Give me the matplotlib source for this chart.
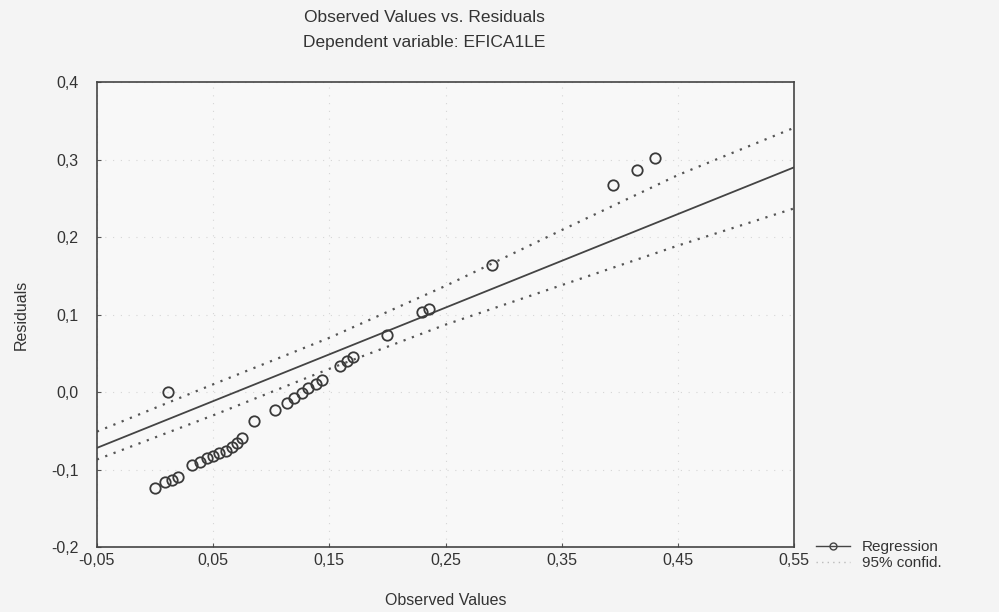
import matplotlib
matplotlib.use("Agg")
import matplotlib.pyplot as plt
from matplotlib.lines import Line2D
from matplotlib.ticker import FuncFormatter

obs_x = [0.000, 0.0085, 0.0146, 0.0197, 0.0318, 0.0387, 0.0447, 0.0499,
         0.055, 0.061, 0.066, 0.0705, 0.0748, 0.085, 0.103, 0.1136,
         0.1196, 0.1265, 0.1316, 0.1385, 0.1437, 0.159, 0.165, 0.1704,
         0.011, 0.200, 0.2298, 0.2358, 0.290, 0.394, 0.415, 0.430]
resid = [-0.124, -0.116, -0.114, -0.110, -0.094, -0.090, -0.085, -0.083,
         -0.079, -0.076, -0.071, -0.066, -0.059, -0.037, -0.023, -0.014,
         -0.008, -0.001, 0.005, 0.010, 0.0155, 0.034, 0.040, 0.045,
         0.000, 0.0735, 0.103, 0.107, 0.164, 0.267, 0.286, 0.302]

# regression line and 95% band
reg_x = [-0.05, 0.55]
reg_y = [-0.072, 0.290]
band_x = [-0.05, 0.05, 0.15, 0.25, 0.35, 0.45, 0.55]
band_hi = [-0.051, 0.010, 0.070, 0.137, 0.209, 0.280, 0.341]
band_lo = [-0.087, -0.030, 0.030, 0.087, 0.138, 0.189, 0.237]

x_ticks = [-0.05, 0.05, 0.15, 0.25, 0.35, 0.45, 0.55]
y_ticks = [-0.2, -0.1, 0.0, 0.1, 0.2, 0.3, 0.4]

plt.rcParams['font.family'] = ['Liberation Sans', 'DejaVu Sans']

fig = plt.figure(figsize=(9.99, 6.12), dpi=100, facecolor="#f4f4f4")
ax = fig.add_axes([0.097, 0.106, 0.698, 0.760], facecolor="#f8f8f8")

ink = "#3a3a3a"
ax.plot(band_x, band_hi, linestyle=(0, (1, 3)), color="#555555", lw=1.6)
ax.plot(band_x, band_lo, linestyle=(0, (1, 3)), color="#555555", lw=1.6)
ax.plot(reg_x, reg_y, color="#444444", lw=1.3)
ax.plot(obs_x, resid, linestyle="none", marker="o", markersize=7.5,
        markerfacecolor="none", markeredgecolor=ink, markeredgewidth=1.3)

ax.set_xlim(-0.05, 0.55)
ax.set_ylim(-0.2, 0.4)
ax.set_xticks(x_ticks)
ax.set_yticks(y_ticks)
ax.xaxis.set_major_formatter(FuncFormatter(lambda v, p: f"{v:.2f}".replace(".", ",")))
ax.yaxis.set_major_formatter(FuncFormatter(lambda v, p: f"{v:.1f}".replace(".", ",")))
ax.tick_params(direction="in", length=3, color="#555555", labelsize=11.5,
               labelcolor="#333333")
ax.tick_params(axis="x", pad=4)
ax.tick_params(axis="y", pad=13)
ax.grid(True, linestyle=(0, (1, 6)), color="#d6d6d6", lw=0.8)
for s in ax.spines.values():
    s.set_color("#444444")
    s.set_linewidth(1.2)

ax.set_xlabel("Observed Values", fontsize=11.5, color="#333333", labelpad=18)
ax.set_ylabel("Residuals", fontsize=11.5, color="#333333", labelpad=16)

fig.text(0.425, 0.972, "Observed Values vs. Residuals", ha="center", va="center",
         fontsize=12.5, color="#333333")
fig.text(0.425, 0.931, "Dependent variable: EFICA1LE", ha="center", va="center",
         fontsize=12.5, color="#333333")

handles = [
    Line2D([], [], color="#444444", lw=1.0, marker="o", markersize=5,
           markerfacecolor="none", markeredgecolor="#444444"),
    Line2D([], [], color="#bbbbbb", lw=1.0, linestyle=(0, (1, 3))),
]
fig.legend(handles, ["Regression", "95% confid."], loc="center left",
           bbox_to_anchor=(0.803, 0.093), frameon=False, fontsize=11,
           handlelength=2.2, labelspacing=0.1, labelcolor="#333333")

fig.savefig("out.png", dpi=100, facecolor=fig.get_facecolor())
